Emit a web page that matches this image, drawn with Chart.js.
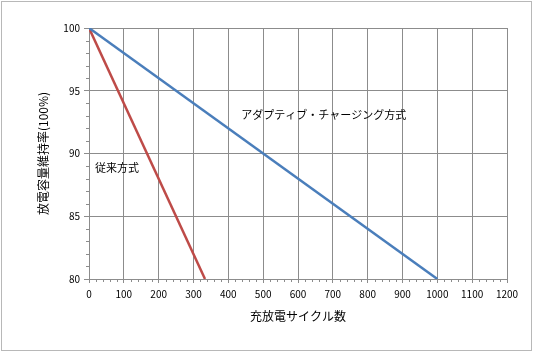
<!DOCTYPE html>
<html>
<head>
  <meta charset="UTF-8">
  <style>
    body { margin: 0; background: #fff; }
    #wrap { position: absolute; left: 1px; top: 1px; width: 529px; height: 348px; border: 1px solid #b8b8b8; }
    canvas { position: absolute; left: -2px; top: -2px; }
  </style>
</head>
<body>
  <div id="wrap"><canvas id="capChart" width="533" height="352"></canvas></div>

  <script src="https://cdn.jsdelivr.net/npm/chart.js@4.4.0/dist/chart.umd.min.js"></script>
  <script>
    const adaptiveCycles = [0, 1000]
    const adaptiveValues = [100, 80]
    const legacyCycles = [0, 333]
    const legacyValues = [100, 80]
    const xTitle = "充放電サイクル数"
    const yTitle = "放電容量維持率(100%)"
    const labels = [
      { text: "アダプティブ・チャージング方式", x: 437, y: 93.1 },
      { text: "従来方式", x: 17, y: 88.85 }
    ]

    const font = "'Noto Sans CJK JP', 'DejaVu Sans', sans-serif"
    const gridColor = "#8c8c8c"

    const toPoints = (xs, ys) => xs.map((x, i) => ({ x: x, y: ys[i] }))

    // minor ticks + in-chart labels
    const extras = {
      id: "extras",
      afterDraw(chart) {
        const c = chart.ctx
        const xs = chart.scales.x, ys = chart.scales.y
        c.save()
        c.strokeStyle = gridColor
        c.lineWidth = 1
        c.beginPath()
        for (let v = 80; v <= 100; v += 1) {
          if (v % 5 == 0) continue
          const py = Math.round(ys.getPixelForValue(v)) + 0.5
          c.moveTo(xs.left - 3, py)
          c.lineTo(xs.left, py)
        }
        for (let v = 0; v <= 1200; v += 20) {
          if (v % 100 == 0) continue
          const px = Math.round(xs.getPixelForValue(v)) + 0.5
          c.moveTo(px, ys.bottom)
          c.lineTo(px, ys.bottom + 3)
        }
        c.stroke()
        c.fillStyle = "#000"
        c.font = "11px " + font
        c.textBaseline = "middle"
        c.textAlign = "left"
        for (const l of labels) {
          c.fillText(l.text, xs.getPixelForValue(l.x), ys.getPixelForValue(l.y))
        }
        c.restore()
      }
    }

    const chart = new Chart(document.getElementById("capChart"), {
      type: "line",
      data: {
        datasets: [
          {
            label: "アダプティブ・チャージング方式",
            data: toPoints(adaptiveCycles, adaptiveValues),
            borderColor: "#4a7ebb",
            borderWidth: 2.5,
            pointRadius: 0
          },
          {
            label: "従来方式",
            data: toPoints(legacyCycles, legacyValues),
            borderColor: "#be4b48",
            borderWidth: 2.5,
            pointRadius: 0
          }
        ]
      },
      options: {
        responsive: false,
        animation: false,
        layout: { padding: { top: 28, right: 26, left: 0, bottom: 0 } },
        plugins: { legend: { display: false }, tooltip: { enabled: false } },
        scales: {
          x: {
            type: "linear",
            min: 0,
            max: 1200,
            afterFit: s => { s.height = 73 },
            ticks: { stepSize: 100, color: "#000", padding: 5, font: { size: 10, family: font }, callback: v => String(v) },
            grid: { color: gridColor, tickLength: 4 },
            border: { color: gridColor },
            title: { display: true, text: xTitle, color: "#000", font: { size: 12, family: font }, padding: { top: 0, bottom: 28 } }
          },
          y: {
            min: 80,
            max: 100,
            afterFit: s => { s.width = 89 },
            ticks: { stepSize: 5, color: "#000", padding: 4, font: { size: 10, family: font } },
            grid: { color: gridColor, tickLength: 5 },
            border: { color: gridColor },
            title: { display: true, text: yTitle, color: "#000", font: { size: 12, family: font }, padding: { top: 36 } }
          }
        }
      },
      plugins: [extras]
    })
  </script>
</body>
</html>
